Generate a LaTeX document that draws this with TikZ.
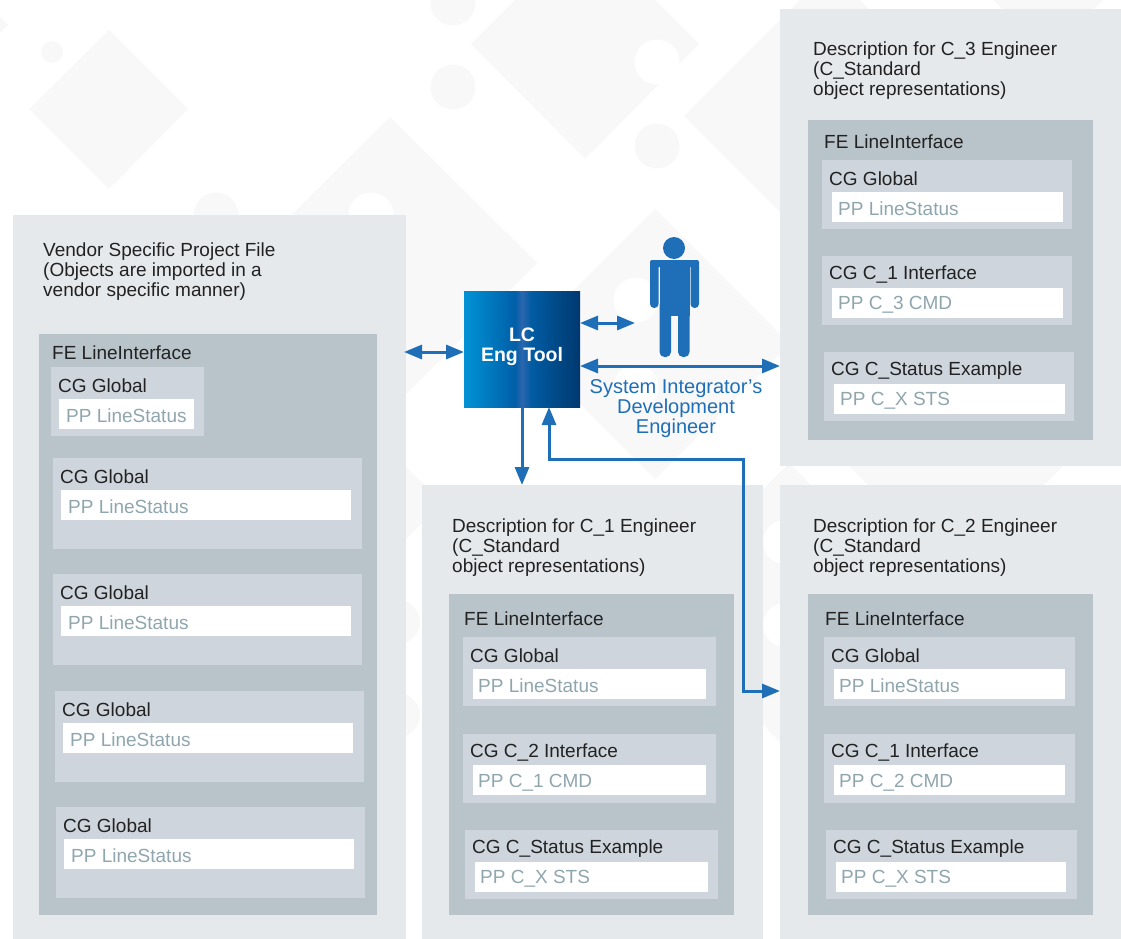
\documentclass[tikz,border=0pt]{standalone}
\usepackage{fontspec}
\setmainfont{Liberation Sans}
\usetikzlibrary{arrows.meta, positioning, calc}
\definecolor{outergrey}{HTML}{E6E9EC}
\definecolor{fegrey}{HTML}{B9C4CA}
\definecolor{cggrey}{HTML}{CED5DC}
\definecolor{pptext}{HTML}{8FA6AF}
\definecolor{lcblue}{HTML}{1F6FB8}
\definecolor{bgshape}{HTML}{F8F8F8}
\definecolor{darktext}{HTML}{222222}
\definecolor{toola}{HTML}{0092D5}
\definecolor{toolb}{HTML}{005FA8}
\definecolor{toolc}{HTML}{2B66AE}
\definecolor{toold}{HTML}{005CA2}
\definecolor{toole}{HTML}{00386F}
\pgfdeclarehorizontalshading{toolshade}{100bp}{color(0bp)=(toola); color(25bp)=(toola); color(47bp)=(toolb); color(50bp)=(toolc); color(54bp)=(toold); color(75bp)=(toole); color(100bp)=(toole)}
\tikzset{
	panel/.style={rectangle, anchor=north west, inner sep=0pt, outer sep=0pt},
	outerpanel/.style={panel, fill=outergrey},
	fepanel/.style={panel, fill=fegrey},
	cgpanel/.style={panel, fill=cggrey},
	ppbox/.style={panel, fill=white, minimum height=30pt},
	heading/.style={anchor=north west, inner sep=0pt, align=left, font=\fontsize{19}{20}\selectfont, text=darktext},
	label text/.style={anchor=west, inner sep=0pt, font=\fontsize{19}{20}\selectfont, text=darktext},
	pp text/.style={anchor=west, inner sep=0pt, font=\fontsize{19}{20}\selectfont, text=pptext},
	link/.style={draw=lcblue, line width=3pt, {Triangle[length=18pt,width=14pt]}-{Triangle[length=18pt,width=14pt]}},
	oneway/.style={draw=lcblue, line width=3pt, -{Triangle[length=18pt,width=14pt]}}
}
\def\ppinset{7}
% name, x, y, width, height, title, pp text, white box inset, white box width
\newcommand{\cgbox}[9]{%
	\node[cgpanel, minimum width=#4pt, minimum height=#5pt] (#1) at (#2,#3) {};
	\node[label text] (#1t) at ([shift={(7,18.7)}]#1.north west) {#6};
	\node[ppbox, minimum width=#9pt] (#1p) at ([shift={(#8,31.5)}]#1.north west) {};
	\node[pp text] (#1pt) at ([shift={(\ppinset,2.5)}]#1p.west) {#7};
}
\begin{document}
\begin{tikzpicture}[x=1pt,y=-1pt]
	\useasboundingbox (0,0) rectangle (1121,939);
	% background
	\begin{scope}
		\clip (0,0) rectangle (1121,939);
		\fill[bgshape] (109,30) -- (188,109) -- (109,189) -- (29,109) -- cycle;
		\fill[bgshape] (8,25) -- (0,33) -- (-8,25) -- (0,17) -- cycle;
		\fill[bgshape] (52,52) circle (11);
		\fill[bgshape] (453,3) circle (22.5);
		\fill[bgshape] (453,87) circle (22.5);
		\fill[bgshape] (216,215) circle (22.5);
		\fill[bgshape] (657,146) circle (22.5);
		\fill[bgshape] (585,-70) -- (699,44) -- (585,159) -- (471,44) -- cycle;
		\fill[white] (657,62) circle (22.5);
		\fill[bgshape] (390,117) -- (537,263) -- (390,410) -- (243,263) -- cycle;
		\fill[white] (371,215) circle (22.5);
		\fill[bgshape] (655,209) -- (790,344) -- (655,479) -- (520,344) -- cycle;
		\fill[white] (636,300) circle (22.5);
		\fill[white] (636,387) circle (22.5);
		\fill[bgshape] (830,-30) -- (976,116) -- (830,262) -- (684,116) -- cycle;
		\fill[bgshape] (1048,55) -- (1138,-35) -- (1048,-125) -- (958,-35) -- cycle;
		\fill[bgshape] (956,333) -- (1076,453) -- (956,573) -- (836,453) -- cycle;
		\fill[bgshape] (789,463) -- (933,607) -- (789,751) -- (645,607) -- cycle;
		\fill[white] (785,542) circle (22);
		\fill[white] (785,625) circle (22);
		\fill[bgshape] (372,433) -- (442,503) -- (372,573) -- (302,503) -- cycle;
		\fill[bgshape] (398,622) circle (22);
		\fill[bgshape] (398,715) circle (22);
	\end{scope}
	% vendor file
	\node[outerpanel, minimum width=393pt, minimum height=724pt] (vendor) at (13,215) {};
	\node[heading] (vendorhead) at (43,243) {Vendor Specific Project File\\(Objects are imported in a\\vendor specific manner)};
	\node[fepanel, minimum width=338pt, minimum height=581pt] (vendorfe) at (39,334) {};
	\node[label text] (vendorfet) at (52,353) {FE LineInterface};
	\cgbox{va}{51}{367}{153}{69}{CG Global}{PP LineStatus}{8}{135}
	\cgbox{vb}{53}{458}{309}{91}{CG Global}{PP LineStatus}{8}{290}
	\cgbox{vc}{53}{574}{309}{91}{CG Global}{PP LineStatus}{8}{290}
	\cgbox{vd}{55}{691}{309}{91}{CG Global}{PP LineStatus}{8}{290}
	\cgbox{ve}{56}{807}{309}{91}{CG Global}{PP LineStatus}{8}{290}
	% descriptions
	\def\ppinset{6}
	\node[outerpanel, minimum width=341pt, minimum height=457pt] (cthree) at (780,9) {};
	\node[heading] (cthreehead) at (813,42) {Description for C\_3 Engineer\\(C\_Standard\\object representations)};
	\node[fepanel, minimum width=285pt, minimum height=320pt] (cthreefe) at (808,120) {};
	\node[label text] (cthreefet) at (824,142) {FE LineInterface};
	\cgbox{ta}{822}{160}{250}{69}{CG Global}{PP LineStatus}{10}{231}
	\cgbox{tb}{822}{256}{250}{69}{CG C\_1 Interface}{PP C\_3 CMD}{10}{231}
	\cgbox{tc}{824}{352}{250}{69}{CG C\_Status Example}{PP C\_X STS}{10}{231}
	\def\ppinset{5}
	\node[outerpanel, minimum width=341pt, minimum height=454pt] (cone) at (422,485) {};
	\node[heading] (conehead) at (452,519) {Description for C\_1 Engineer\\(C\_Standard\\object representations)};
	\node[fepanel, minimum width=285pt, minimum height=321pt] (conefe) at (449,594) {};
	\node[label text] (conefet) at (464,619) {FE LineInterface};
	\cgbox{oa}{463}{637}{253}{69}{CG Global}{PP LineStatus}{10}{233}
	\cgbox{ob}{463}{733.5}{253}{69}{CG C\_2 Interface}{PP C\_1 CMD}{10}{233}
	\cgbox{oc}{465}{830}{253}{69}{CG C\_Status Example}{PP C\_X STS}{10}{233}
	\node[outerpanel, minimum width=341pt, minimum height=454pt] (ctwo) at (780,485) {};
	\node[heading] (ctwohead) at (813,519) {Description for C\_2 Engineer\\(C\_Standard\\object representations)};
	\node[fepanel, minimum width=285pt, minimum height=321pt] (ctwofe) at (808,594) {};
	\node[label text] (ctwofet) at (825,619) {FE LineInterface};
	\cgbox{wa}{824}{637}{251}{69}{CG Global}{PP LineStatus}{10}{231}
	\cgbox{wb}{824}{733.5}{251}{69}{CG C\_1 Interface}{PP C\_2 CMD}{10}{231}
	\cgbox{wc}{826}{830}{251}{69}{CG C\_Status Example}{PP C\_X STS}{10}{230}
	% tool and engineer
	\node[panel, shading=toolshade, minimum width=116pt, minimum height=116pt] (tool) at (464,291) {};
	\node[inner sep=0pt, align=center, text=white, font=\fontsize{19.5}{20}\selectfont\bfseries] (tooltext) at ([yshift=2pt]tool.center) {LC\\Eng Tool};
	\fill[lcblue] (674,248) circle (11);
	\fill[lcblue, rounded corners=2pt] (650,260) rectangle (699,267);
	\fill[lcblue, rounded corners=4pt] (650,262) rectangle (658.5,308);
	\fill[lcblue, rounded corners=4pt] (690.5,262) rectangle (699,308);
	\fill[lcblue] (659.5,262) rectangle (689.5,316);
	\fill[lcblue, rounded corners=5pt] (659.5,300) rectangle (671,357);
	\fill[lcblue, rounded corners=5pt] (678,300) rectangle (689.5,357);
	\node[inner sep=0pt, align=center, text=lcblue, font=\fontsize{20}{20}\selectfont] (engineer) at (676,409) {System Integrator’s\\Development\\Engineer};
	% connectors
	\coordinate (vendorport) at (404,352);
	\coordinate (toolleft) at (tool.west |- 0,352);
	\coordinate (toolperson) at (tool.east |- 0,323);
	\coordinate (personport) at (635,323);
	\coordinate (toolright) at (tool.east |- 0,366);
	\coordinate (cthreeport) at (cthree.west |- 0,366);
	\coordinate (toolin) at (549,407);
	\coordinate (bend) at (743,459);
	\coordinate (ctwoport) at (ctwo.west |- 0,691);
	\draw[link] (vendorport) -- (toolleft);
	\draw[link] (toolperson) -- (personport);
	\draw[link] (toolright) -- (cthreeport);
	\draw[oneway] (tool.south) -- (tool.south |- cone.north);
	\draw[link] (toolin) |- (bend) |- (ctwoport);
\end{tikzpicture}
\end{document}
